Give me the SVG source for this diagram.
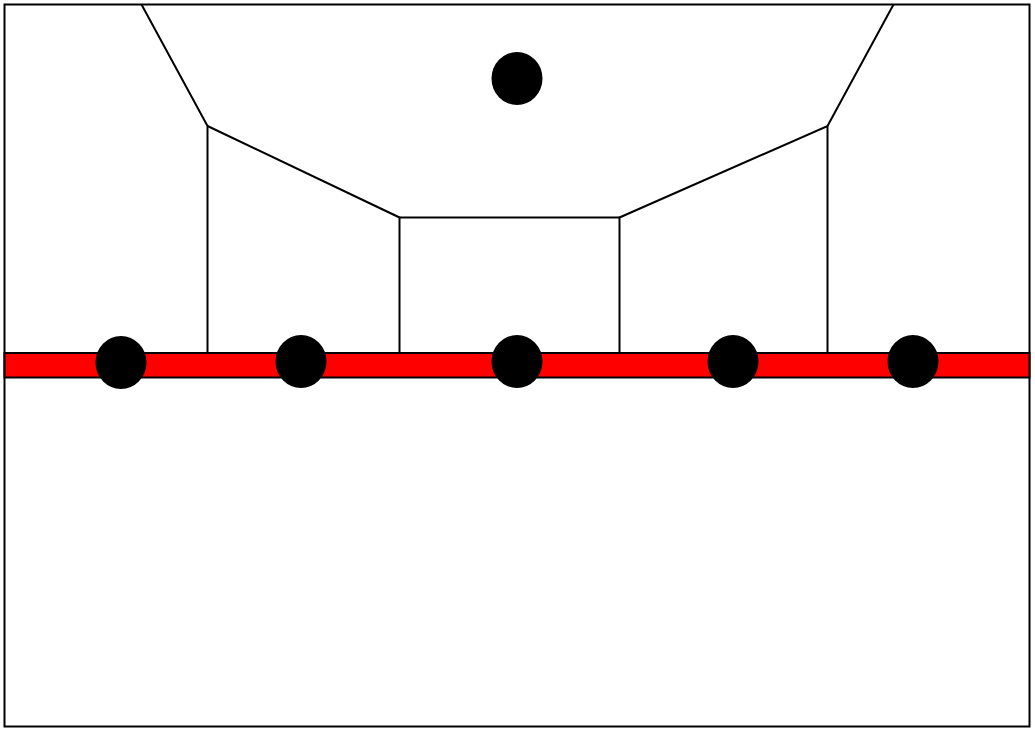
<svg xmlns="http://www.w3.org/2000/svg" width="1035" height="731" viewBox="0 0 1035 731">
<style>
.ln{fill:none;stroke:#000;stroke-width:2;}
.dot{fill:#000;stroke:none;}
</style>
<rect x="0" y="0" width="1035" height="731" fill="#fff"/>
<g id="frame"><rect x="4.5" y="4.5" width="1025" height="722" class="ln"/></g>
<g id="bar"><rect x="4.5" y="353" width="1025" height="24.5" fill="#ff0000" stroke="#000" stroke-width="2"/></g>
<g id="connectors">
<polyline class="ln" points="141.5,4.5 207.5,126 207.5,353"/>
<polyline class="ln" points="207.5,126 399.5,217.5 399.5,353"/>
<line class="ln" x1="399.5" y1="217.5" x2="619.5" y2="217.5"/>
<polyline class="ln" points="619.5,353 619.5,217.5 827.5,126 827.5,353"/>
<line class="ln" x1="827.5" y1="126" x2="893.5" y2="4.5"/>
</g>
<g id="n0"><ellipse class="dot" cx="517" cy="78.5" rx="25.5" ry="26.5"/></g>
<g id="n1"><ellipse class="dot" cx="121" cy="362.5" rx="25.5" ry="26.5"/></g>
<g id="n2"><ellipse class="dot" cx="301" cy="361.5" rx="25.5" ry="26.5"/></g>
<g id="n3"><ellipse class="dot" cx="517" cy="361.5" rx="25.5" ry="26.5"/></g>
<g id="n4"><ellipse class="dot" cx="733" cy="361.5" rx="25.5" ry="26.5"/></g>
<g id="n5"><ellipse class="dot" cx="913" cy="361.5" rx="25.5" ry="26.5"/></g>
</svg>
